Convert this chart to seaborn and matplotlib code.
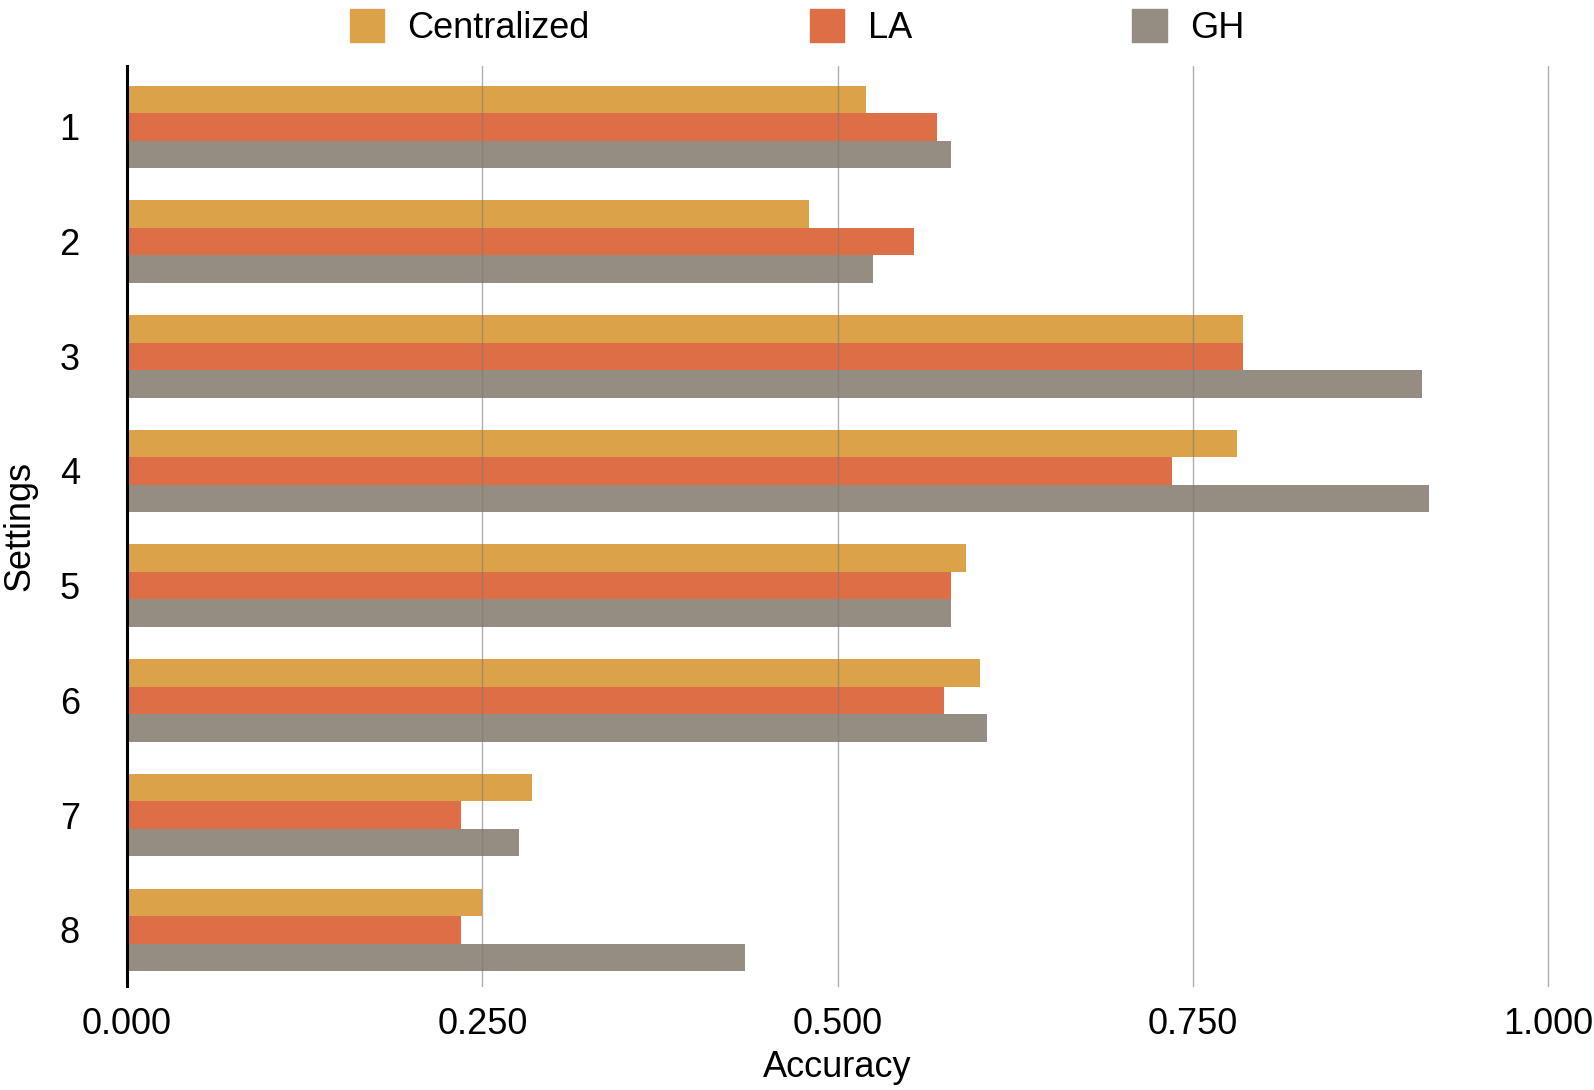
import pandas as pd
import numpy as np
import matplotlib
matplotlib.use("Agg")
import matplotlib.pyplot as plt
import seaborn as sns

settings = ["1", "2", "3", "4", "5", "6", "7", "8"]
centralized = [0.520, 0.480, 0.785, 0.781, 0.590, 0.600, 0.285, 0.250]
la = [0.570, 0.554, 0.785, 0.735, 0.580, 0.575, 0.235, 0.235]
gh = [0.580, 0.525, 0.911, 0.916, 0.580, 0.605, 0.276, 0.435]
methods = ["Centralized", "LA", "GH"]
colors = ["#DCA24A", "#DE6E45", "#958D82"]
xticks = [0.0, 0.25, 0.5, 0.75, 1.0]

df = pd.DataFrame({"Settings": settings * 3,
                   "Accuracy": centralized + la + gh,
                   "Method": np.repeat(methods, len(settings))})

sns.set_style("white")
plt.rcParams["font.family"] = ["Liberation Sans", "DejaVu Sans"]
plt.rcParams["text.color"] = "black"
plt.rcParams["axes.labelcolor"] = "black"
plt.rcParams["xtick.color"] = "black"
plt.rcParams["ytick.color"] = "black"

fig = plt.figure(figsize=(15.94, 10.90), dpi=100)
ax = fig.add_axes([0.0797, 0.0954, 0.9713 - 0.0797, 0.9394 - 0.0954])

sns.barplot(data=df, y="Settings", x="Accuracy", hue="Method", orient="h",
            palette=colors, width=0.72, saturation=1, linewidth=0, ax=ax,
            legend=False)

for x in xticks[1:]:
    ax.axvline(x, color="#7a7a7a", lw=1.0, alpha=0.6, zorder=5, clip_on=False)

ax.set_xlim(0, 1.0)
ax.set_ylim(7.49, -0.53)
ax.set_xticks(xticks)
ax.set_xticklabels([f"{t:.3f}" for t in xticks])
ax.tick_params(axis="x", length=0, pad=15, labelsize=26)
ax.tick_params(axis="y", length=0, pad=34, labelsize=26)
ax.set_xlabel("Accuracy", fontsize=26, labelpad=6)
ax.set_ylabel("Settings", fontsize=26, labelpad=16)
for s in ["top", "right", "bottom"]:
    ax.spines[s].set_visible(False)
ax.spines["left"].set_color("black")
ax.spines["left"].set_linewidth(2.2)
ax.spines["left"].set_zorder(6)

handles = [plt.Rectangle((0, 0), 1, 1, color=c) for c in colors]
fig.legend(handles, methods, loc="upper center", bbox_to_anchor=(0.5, 1.022),
           ncol=3, frameon=False, fontsize=26, handlelength=0.95,
           handleheight=1.05, handletextpad=0.65, columnspacing=6.1)

fig.savefig("out.png", dpi=100)
